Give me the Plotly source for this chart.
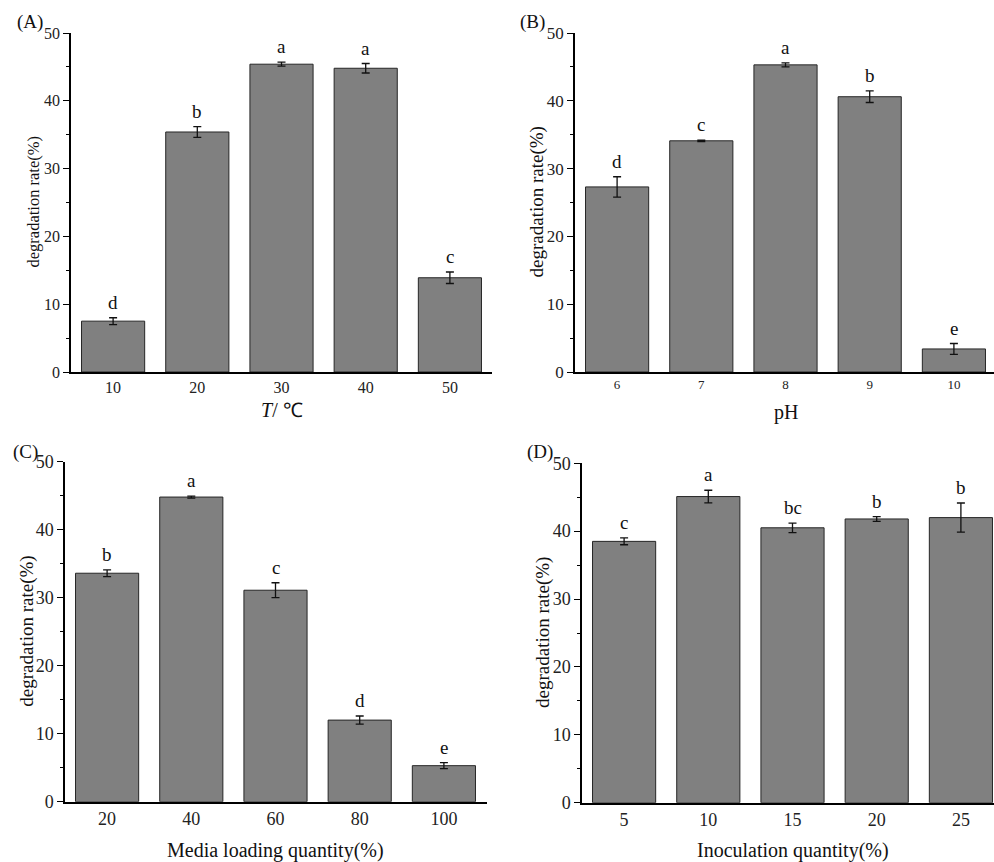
import plotly.graph_objects as go

W, H = 994, 862

# Data
temp_labels = ["10", "20", "30", "40", "50"]
temp_values = [7.5, 35.4, 45.4, 44.8, 13.9]
temp_err = [0.5, 0.8, 0.3, 0.7, 0.85]
temp_letters = ["d", "b", "a", "a", "c"]

ph_labels = ["6", "7", "8", "9", "10"]
ph_values = [27.3, 34.1, 45.3, 40.6, 3.4]
ph_err = [1.5, 0.1, 0.3, 0.85, 0.8]
ph_letters = ["d", "c", "a", "b", "e"]

media_labels = ["20", "40", "60", "80", "100"]
media_values = [33.6, 44.8, 31.1, 12.0, 5.3]
media_err = [0.5, 0.15, 1.1, 0.6, 0.45]
media_letters = ["b", "a", "c", "d", "e"]

inoc_labels = ["5", "10", "15", "20", "25"]
inoc_values = [38.5, 45.1, 40.5, 41.8, 42.0]
inoc_err = [0.5, 0.93, 0.7, 0.35, 2.15]
inoc_letters = ["c", "a", "bc", "b", "b"]

FONT = "Liberation Serif, Times New Roman, serif"

panels = [
    dict(labels=temp_labels, values=temp_values, err=temp_err, letters=temp_letters,
         x0=71, x1=492, ytop=33, ybot=372, title="<i>T</i>/ ℃", title_y=410,
         tag="(A)", tag_x=30, tag_y=22, ytitle_x=33, ytitle_size=16.5, xtick_size=16, ytick_size=16),
    dict(labels=ph_labels, values=ph_values, err=ph_err, letters=ph_letters,
         x0=575, x1=994, ytop=33, ybot=372, title="pH", title_y=413,
         tag="(B)", tag_x=532, tag_y=22, ytitle_x=537, ytitle_size=19, xtick_size=13, ytick_size=17),
    dict(labels=media_labels, values=media_values, err=media_err, letters=media_letters,
         x0=65, x1=487, ytop=461.7, ybot=801.7, title="Media loading quantity(%)", title_y=850,
         tag="(C)", tag_x=25, tag_y=452, ytitle_x=27, ytitle_size=19, xtick_size=18, ytick_size=18),
    dict(labels=inoc_labels, values=inoc_values, err=inoc_err, letters=inoc_letters,
         x0=582, x1=994, ytop=463.3, ybot=802.7, title="Inoculation quantity(%)", title_y=850,
         tag="(D)", tag_x=540, tag_y=452, ytitle_x=543, ytitle_size=19, xtick_size=18, ytick_size=18),
]

fig = go.Figure()
annotations = []
layout = {}
PITCH = 84.2

for i, p in enumerate(panels, start=1):
    xa = "x" if i == 1 else f"x{i}"
    ya = "y" if i == 1 else f"y{i}"
    xkey = "xaxis" if i == 1 else f"xaxis{i}"
    ykey = "yaxis" if i == 1 else f"yaxis{i}"
    idx = list(range(len(p["labels"])))
    fig.add_trace(go.Bar(
        x=idx, y=p["values"], width=0.75,
        marker=dict(color="#808080", line=dict(color="#262626", width=1)),
        error_y=dict(type="data", array=p["err"], color="#111111", thickness=1.3, width=4),
        xaxis=xa, yaxis=ya, showlegend=False, hoverinfo="skip",
    ))
    xmax = (p["x1"] - p["x0"]) / PITCH - 0.5
    layout[xkey] = dict(
        domain=[p["x0"] / W, p["x1"] / W], range=[-0.5, xmax], anchor=ya,
        tickmode="array", tickvals=idx, ticktext=p["labels"],
        showline=True, linecolor="black", linewidth=1.5, ticks="",
        showgrid=False, zeroline=False, automargin=False,
        tickfont=dict(family=FONT, size=p["xtick_size"], color="#222"),
    )
    layout[ykey] = dict(
        domain=[1 - p["ybot"] / H, 1 - p["ytop"] / H], range=[0, 50], anchor=xa,
        tickmode="array", tickvals=[0, 10, 20, 30, 40, 50],
        showline=True, linecolor="black", linewidth=1.5,
        ticks="outside", ticklen=6, tickwidth=1.2, tickcolor="black",
        minor=dict(tickvals=[5, 15, 25, 35, 45], ticks="outside", ticklen=3, tickwidth=1, tickcolor="black"),
        showgrid=False, zeroline=False, automargin=False,
        tickfont=dict(family=FONT, size=p["ytick_size"], color="#222"),
    )
    for k, (v, e, lt) in enumerate(zip(p["values"], p["err"], p["letters"])):
        annotations.append(dict(
            x=k, y=v + e, xref=xa, yref=ya, text=lt, showarrow=False,
            yanchor="bottom", yshift=3,
            font=dict(family=FONT, size=19, color="#111"),
        ))
    annotations.append(dict(
        x=(p["x0"] + p["x0"] + 5 * PITCH) / 2 / W, y=1 - p["title_y"] / H,
        xref="paper", yref="paper", text=p["title"], showarrow=False,
        xanchor="center", yanchor="middle",
        font=dict(family=FONT, size=20, color="#111"),
    ))
    annotations.append(dict(
        x=p["ytitle_x"] / W, y=1 - (p["ytop"] + p["ybot"]) / 2 / H,
        xref="paper", yref="paper", text="degradation rate(%)", showarrow=False,
        textangle=-90, xanchor="center", yanchor="middle",
        font=dict(family=FONT, size=p["ytitle_size"], color="#111"),
    ))
    annotations.append(dict(
        x=p["tag_x"] / W, y=1 - p["tag_y"] / H,
        xref="paper", yref="paper", text=p["tag"], showarrow=False,
        xanchor="center", yanchor="middle",
        font=dict(family=FONT, size=19, color="#111"),
    ))

fig.update_layout(
    width=W, height=H,
    margin=dict(l=0, r=0, t=0, b=0, pad=0),
    paper_bgcolor="white", plot_bgcolor="white",
    annotations=annotations,
    **layout,
)

fig.write_html(
    "out.html",
    config={"displayModeBar": False},
    post_script="document.body.style.margin='0';document.body.style.overflow='hidden';",
)
